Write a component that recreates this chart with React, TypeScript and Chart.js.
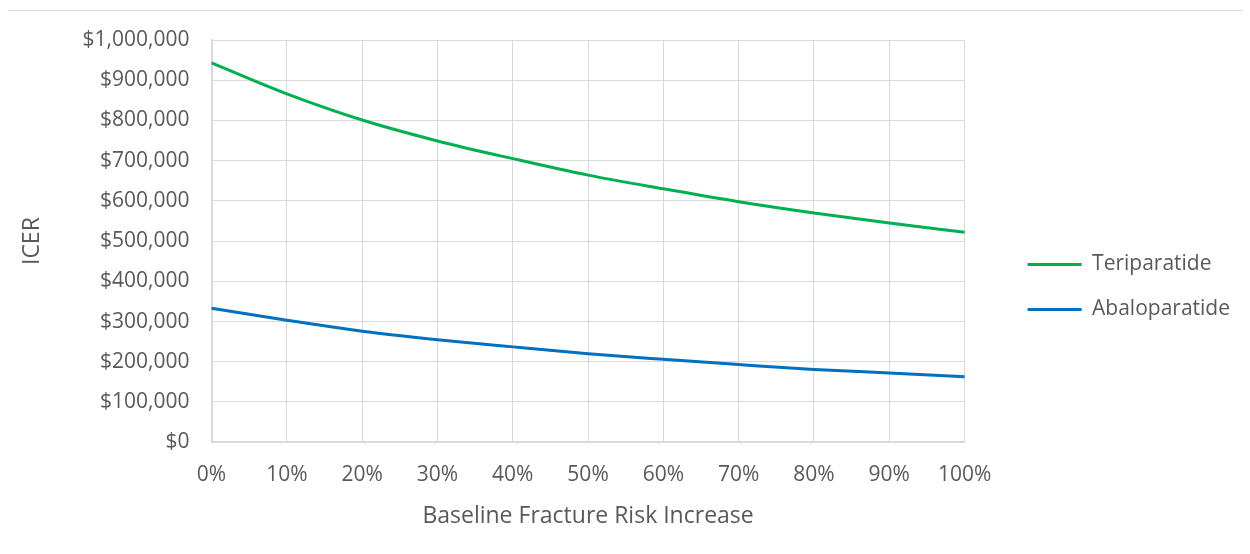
import React, { useEffect, useRef } from "react";
import { Chart, registerables } from "chart.js";

Chart.register(...registerables);

const categories = ["0%", "10%", "20%", "30%", "40%", "50%", "60%", "70%", "80%", "90%", "100%"];
const teriparatide = [943000, 866000, 801000, 749000, 705000, 664000, 630000, 598000, 570000, 545000, 522000];
const abaloparatide = [333000, 303000, 276000, 255000, 237000, 220000, 206000, 193000, 181000, 172000, 163000];
const yTitle = "ICER";
const xTitle = "Baseline Fracture Risk Increase";
const seriesNames = ["Teriparatide", "Abaloparatide"];

const FONT = "'Open Sans', 'Noto Sans', sans-serif";
const TEXT = "#595959";
const GRID = "#d9d9d9";
const LEGEND_GAP = 39;
const LEGEND_DY = 2;

const legendGapPlugin = {
  id: "legendGap",
  beforeLayout(chart: any) {
    const lg = chart.legend;
    if (lg && !lg.__patched) {
      const orig = lg.fit.bind(lg);
      lg.fit = function () {
        orig();
        this.width += LEGEND_GAP;
      };
      lg.__patched = true;
    }
  },
  afterLayout(chart: any) {
    const lg = chart.legend;
    if (lg) {
      lg.left += LEGEND_GAP;
      lg.top += LEGEND_DY;
      lg.bottom += LEGEND_DY;
    }
  },
};

export default function App() {
  const ref = useRef<HTMLCanvasElement | null>(null);
  useEffect(() => {
    if (!ref.current) return;
    const chart = new Chart(ref.current, {
      type: "line",
      data: {
        labels: categories,
        datasets: [
          {
            label: seriesNames[0],
            data: teriparatide,
            borderColor: "#00b050",
            backgroundColor: "#00b050",
            borderWidth: 3,
            pointRadius: 0,
            cubicInterpolationMode: "monotone",
          },
          {
            label: seriesNames[1],
            data: abaloparatide,
            borderColor: "#0070c0",
            backgroundColor: "#0070c0",
            borderWidth: 3,
            pointRadius: 0,
            cubicInterpolationMode: "monotone",
          },
        ],
      },
      options: {
        animation: false,
        responsive: false,
        layout: { padding: { left: 11, right: 10, top: 29, bottom: 25 } },
        plugins: {
          tooltip: { enabled: false },
          legend: {
            position: "right",
            labels: {
              usePointStyle: true,
              pointStyle: "line",
              pointStyleWidth: 54,
              boxHeight: 3,
              color: TEXT,
              font: { family: FONT, size: 21 },
              padding: 24,
            },
          },
        },
        scales: {
          x: {
            grid: { color: GRID, lineWidth: 1, drawTicks: false },
            border: { color: GRID, width: 2 },
            ticks: { color: TEXT, font: { family: FONT, size: 21 }, padding: 20, maxRotation: 0 },
            title: { display: true, text: xTitle, color: TEXT, font: { family: FONT, size: 23 }, padding: { top: -5, bottom: 0 } },
          },
          y: {
            min: 0,
            max: 1000000,
            grid: { color: GRID, lineWidth: 1, drawTicks: false },
            border: { color: GRID, width: 2 },
            afterFit: (s: any) => {
              s.paddingTop = 0;
              s.paddingBottom = 0;
            },
            ticks: {
              stepSize: 100000,
              color: TEXT,
              font: { family: FONT, size: 21 },
              padding: 22,
              callback: (v: any) => "$" + Number(v).toLocaleString("en-US"),
            },
            title: { display: true, text: yTitle, color: TEXT, font: { family: FONT, size: 23 }, padding: { top: 0, bottom: 14 } },
          },
        },
      },
      plugins: [legendGapPlugin],
    });
    return () => chart.destroy();
  }, []);
  return (
    <div
      style={{
        marginLeft: -1,
        marginTop: 2,
        width: 1244,
        height: 546,
        border: "1px solid #d9d9d9",
        boxSizing: "border-box",
        background: "#fff",
      }}
    >
      <canvas ref={ref} width={1242} height={544} />
    </div>
  );
}
